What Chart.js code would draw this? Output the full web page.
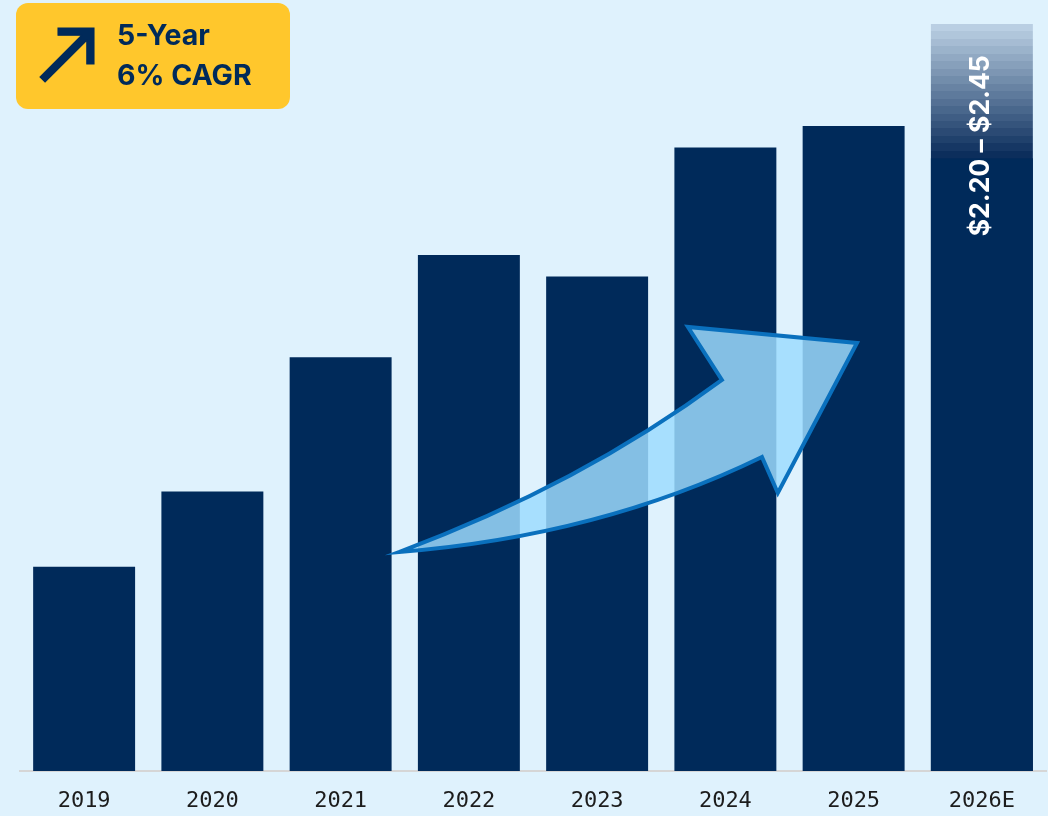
<!DOCTYPE html>
<html>
<head>
<meta charset="utf-8">
<script src="https://cdn.jsdelivr.net/npm/chart.js@4.4.1/dist/chart.umd.min.js"></script>
<style>
  html, body { margin: 0; padding: 0; background: #dff2fd; }
  #wrap { position: relative; width: 1048px; height: 816px; }
  canvas { display: block; }
</style>
</head>
<body>
<div id="wrap"><canvas id="c" width="1048" height="816"></canvas></div>
<script>
// ---- data ----
const categories = ['2019', '2020', '2021', '2022', '2023', '2024', '2025', '2026E'];
const actualValues = [1.44, 1.58, 1.83, 2.02, 1.98, 2.22, 2.26, null];
const estimateLow = 2.20;
const estimateHigh = 2.45;
const estimateLabel = '$2.20 \u2013 $2.45';
const badgeLines = ['5-Year', '6% CAGR'];
const axisMin = 1.06;
const axisMax = 2.45;
// decorative growth arrow, in data space: [category index, value]
const arrowTail = [2.455, 1.4675];
const arrowUpperCtrl = [3.866, 1.5922];
const arrowUpperNotch = [4.973, 1.7876];
const arrowHeadBack = [4.708, 1.8862];
const arrowHeadTip = [6.026, 1.8564];
const arrowHeadLow = [5.409, 1.5773];
const arrowLowerNotch = [5.285, 1.6443];
const arrowLowerCtrl = [4.021, 1.4973];

// ---- styles ----
const NAVY = '#002a5a';
const lastIdx = categories.length - 1;
const solidData = actualValues.map((v, i) => (i === lastIdx ? estimateLow : v));
const rangeData = categories.map((c, i) => (i === lastIdx ? estimateHigh : null));

function rangeGradient(context) {
  const chart = context.chart;
  const area = chart.chartArea;
  if (!area) return NAVY;
  const y = chart.scales.y;
  const yTop = y.getPixelForValue(estimateHigh);
  const yBot = y.getPixelForValue(estimateLow);
  const g = chart.ctx.createLinearGradient(0, yTop, 0, yBot);
  const top = [186, 207, 227], bot = [12, 46, 92];
  const bands = 18;
  for (let b = 0; b < bands; b++) {
    const t = b / (bands - 1);
    const col = top.map((c, k) => Math.round(c + (bot[k] - c) * t));
    const s = 'rgb(' + col.join(',') + ')';
    g.addColorStop(b / bands, s);
    g.addColorStop((b + 1) / bands - 0.0001, s);
  }
  return g;
}

const overlayPlugin = {
  id: 'overlay',
  afterDatasetsDraw(chart) {
    const ctx = chart.ctx;
    const x = chart.scales.x, y = chart.scales.y;
    const P = (p) => [x.getPixelForValue(p[0]), y.getPixelForValue(p[1])];

    // growth arrow
    const t = P(arrowTail), uc = P(arrowUpperCtrl), un = P(arrowUpperNotch),
          hb = P(arrowHeadBack), ht = P(arrowHeadTip), hl = P(arrowHeadLow),
          ln = P(arrowLowerNotch), lc = P(arrowLowerCtrl);
    ctx.save();
    ctx.beginPath();
    ctx.moveTo(t[0], t[1]);
    ctx.quadraticCurveTo(uc[0], uc[1], un[0], un[1]);
    ctx.lineTo(hb[0], hb[1]);
    ctx.lineTo(ht[0], ht[1]);
    ctx.lineTo(hl[0], hl[1]);
    ctx.lineTo(ln[0], ln[1]);
    ctx.quadraticCurveTo(lc[0], lc[1], t[0], t[1]);
    ctx.closePath();
    ctx.fillStyle = 'rgba(156,220,254,0.845)';
    ctx.fill();
    ctx.lineWidth = 4;
    ctx.lineJoin = 'miter';
    ctx.miterLimit = 10;
    ctx.strokeStyle = '#0a70bd';
    ctx.stroke();
    ctx.restore();

    // estimate label on last bar
    const meta = chart.getDatasetMeta(1);
    const bar = meta.data[lastIdx];
    if (bar) {
      ctx.save();
      ctx.translate(bar.x - 1, y.getPixelForValue(2.2235));
      ctx.rotate(-Math.PI / 2);
      ctx.fillStyle = '#ffffff';
      ctx.font = 'bold 26.5px Inter';
      ctx.textAlign = 'center';
      ctx.textBaseline = 'middle';
      ctx.fillText(estimateLabel, 0, 0);
      ctx.restore();
    }
  },
  afterDraw(chart) {
    const ctx = chart.ctx;
    // CAGR badge
    ctx.save();
    ctx.beginPath();
    ctx.roundRect(16, 3, 274, 106, 12);
    ctx.fillStyle = '#ffc72c';
    ctx.fill();
    // north-east arrow icon
    ctx.translate(25.6, 10);
    ctx.scale(3.6, 3.6);
    ctx.fillStyle = NAVY;
    ctx.strokeStyle = NAVY;
    ctx.lineWidth = 0.3;
    const icon = new Path2D('M9 5v2h6.59L4 18.59 5.41 20 17 8.41V15h2V5z');
    ctx.fill(icon);
    ctx.stroke(icon);
    ctx.restore();
    ctx.save();
    ctx.fillStyle = NAVY;
    ctx.font = 'bold 28.5px Inter';
    ctx.textBaseline = 'alphabetic';
    ctx.fillText(badgeLines[0], 117, 45);
    ctx.fillText(badgeLines[1], 117, 85);
    ctx.restore();
  }
};

new Chart(document.getElementById('c'), {
  type: 'bar',
  data: {
    labels: categories,
    datasets: [
      {
        label: 'Actual',
        data: solidData,
        backgroundColor: NAVY,
        grouped: false,
        categoryPercentage: 1,
        barPercentage: 0.795,
        order: 1
      },
      {
        label: 'Estimate range',
        data: rangeData,
        backgroundColor: rangeGradient,
        grouped: false,
        categoryPercentage: 1,
        barPercentage: 0.795,
        order: 2
      }
    ]
  },
  options: {
    responsive: false,
    devicePixelRatio: 1,
    animation: false,
    layout: { padding: { left: 20, right: 2, top: 24, bottom: 0 } },
    plugins: { legend: { display: false }, tooltip: { enabled: false } },
    scales: {
      x: {
        grid: { display: false },
        border: { display: true, color: '#d6d6d6', width: 2 },
        ticks: {
          color: '#1c1c1c',
          font: { family: 'DejaVu Sans Mono', size: 22 },
          padding: 9
        },
        afterFit(scale) { scale.height = 45; }
      },
      y: { display: false, min: axisMin, max: axisMax }
    }
  },
  plugins: [overlayPlugin]
});
</script>
</body>
</html>
